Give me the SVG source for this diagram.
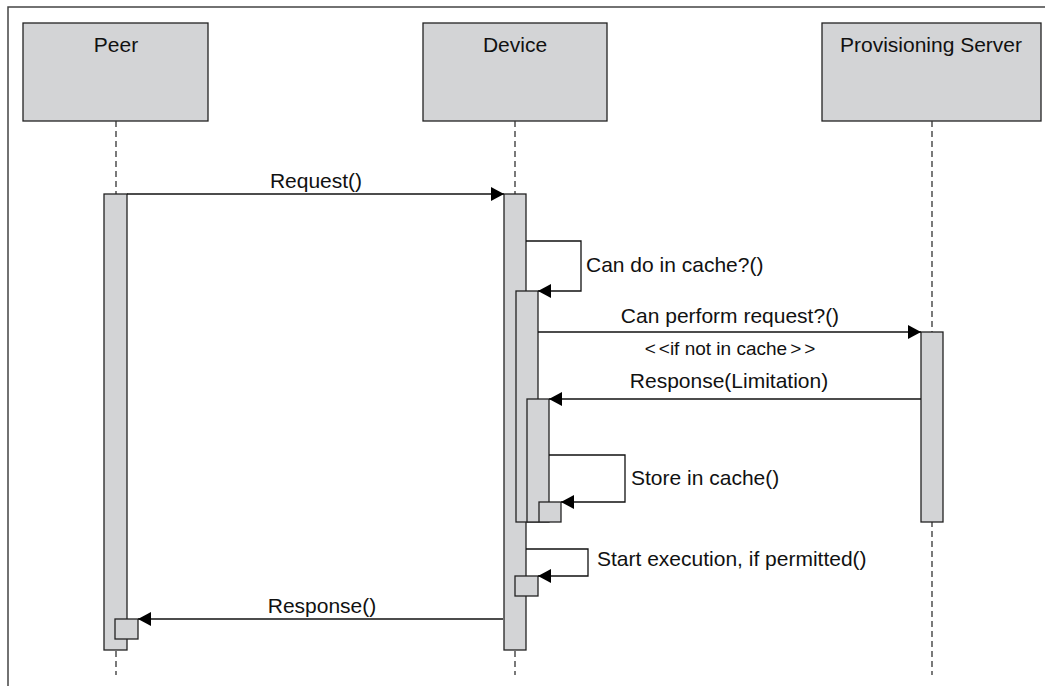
<svg xmlns="http://www.w3.org/2000/svg" width="1045" height="686" viewBox="0 0 1045 686">
<style>
.box{fill:#d3d4d6;stroke:#222;stroke-width:1.3}
.act{fill:#d3d4d6;stroke:#222;stroke-width:1.3}
.life{stroke:#333;stroke-width:1.3;stroke-dasharray:6,4;fill:none}
.msg{stroke:#111;stroke-width:1.3;fill:none}
text{font-family:"Liberation Sans",Arial,sans-serif;font-size:21px;fill:#111}
.c{text-anchor:middle}
.small{font-size:19px}
</style>
<defs>
<marker id="ah" markerUnits="userSpaceOnUse" markerWidth="14" markerHeight="14" refX="13" refY="7" orient="auto">
<path d="M0,0 L13,7 L0,14 z" fill="#000"/>
</marker>
</defs>
<rect width="1045" height="686" fill="#fff"/>
<path d="M8,686 V7 H1045" fill="none" stroke="#444" stroke-width="1.5"/>
<g id="peer">
<rect class="box" x="23" y="23" width="185" height="98"/>
<text class="c" x="116" y="52">Peer</text>
<line class="life" x1="116" y1="121" x2="116" y2="675"/>
<rect class="act" x="104" y="194" width="23" height="456"/>
<rect class="act" x="115" y="619" width="23" height="20"/>
</g>
<g id="device">
<rect class="box" x="423" y="23" width="184" height="98"/>
<text class="c" x="515" y="52">Device</text>
<line class="life" x1="515" y1="121" x2="515" y2="675"/>
<rect class="act" x="504" y="194" width="22" height="456"/>
<rect class="act" x="516" y="291" width="22" height="231"/>
<rect class="act" x="527" y="399" width="22" height="123"/>
<rect class="act" x="539" y="502" width="22" height="20"/>
<rect class="act" x="515" y="576" width="23" height="20"/>
</g>
<g id="server">
<rect class="box" x="822" y="23" width="219" height="98"/>
<text class="c" x="931" y="52">Provisioning Server</text>
<line class="life" x1="932" y1="121" x2="932" y2="675"/>
<rect class="act" x="921" y="332" width="22" height="190"/>
</g>
<g id="connectors">
<path class="msg" d="M127,194 H504" marker-end="url(#ah)"/>
<text class="c" x="316" y="188">Request()</text>
<path class="msg" d="M526,241 H581 V291 H538" marker-end="url(#ah)"/>
<text x="586" y="272">Can do in cache?()</text>
<path class="msg" d="M538,332 H921" marker-end="url(#ah)"/>
<text class="c" x="730" y="323">Can perform request?()</text>
<text class="c small" x="730" y="355">&lt;<tspan dx="3">&lt;</tspan>if not in cache<tspan dx="3">&gt;</tspan><tspan dx="3">&gt;</tspan></text>
<path class="msg" d="M921,399 H549" marker-end="url(#ah)"/>
<text class="c" x="729" y="388">Response(Limitation)</text>
<path class="msg" d="M549,455 H625 V502 H561" marker-end="url(#ah)"/>
<text x="631" y="485">Store in cache()</text>
<path class="msg" d="M526,549 H588 V576 H538" marker-end="url(#ah)"/>
<text x="597" y="566">Start execution, if permitted()</text>
<path class="msg" d="M503,619 H138" marker-end="url(#ah)"/>
<text class="c" x="322" y="613">Response()</text>
</g>
</svg>
